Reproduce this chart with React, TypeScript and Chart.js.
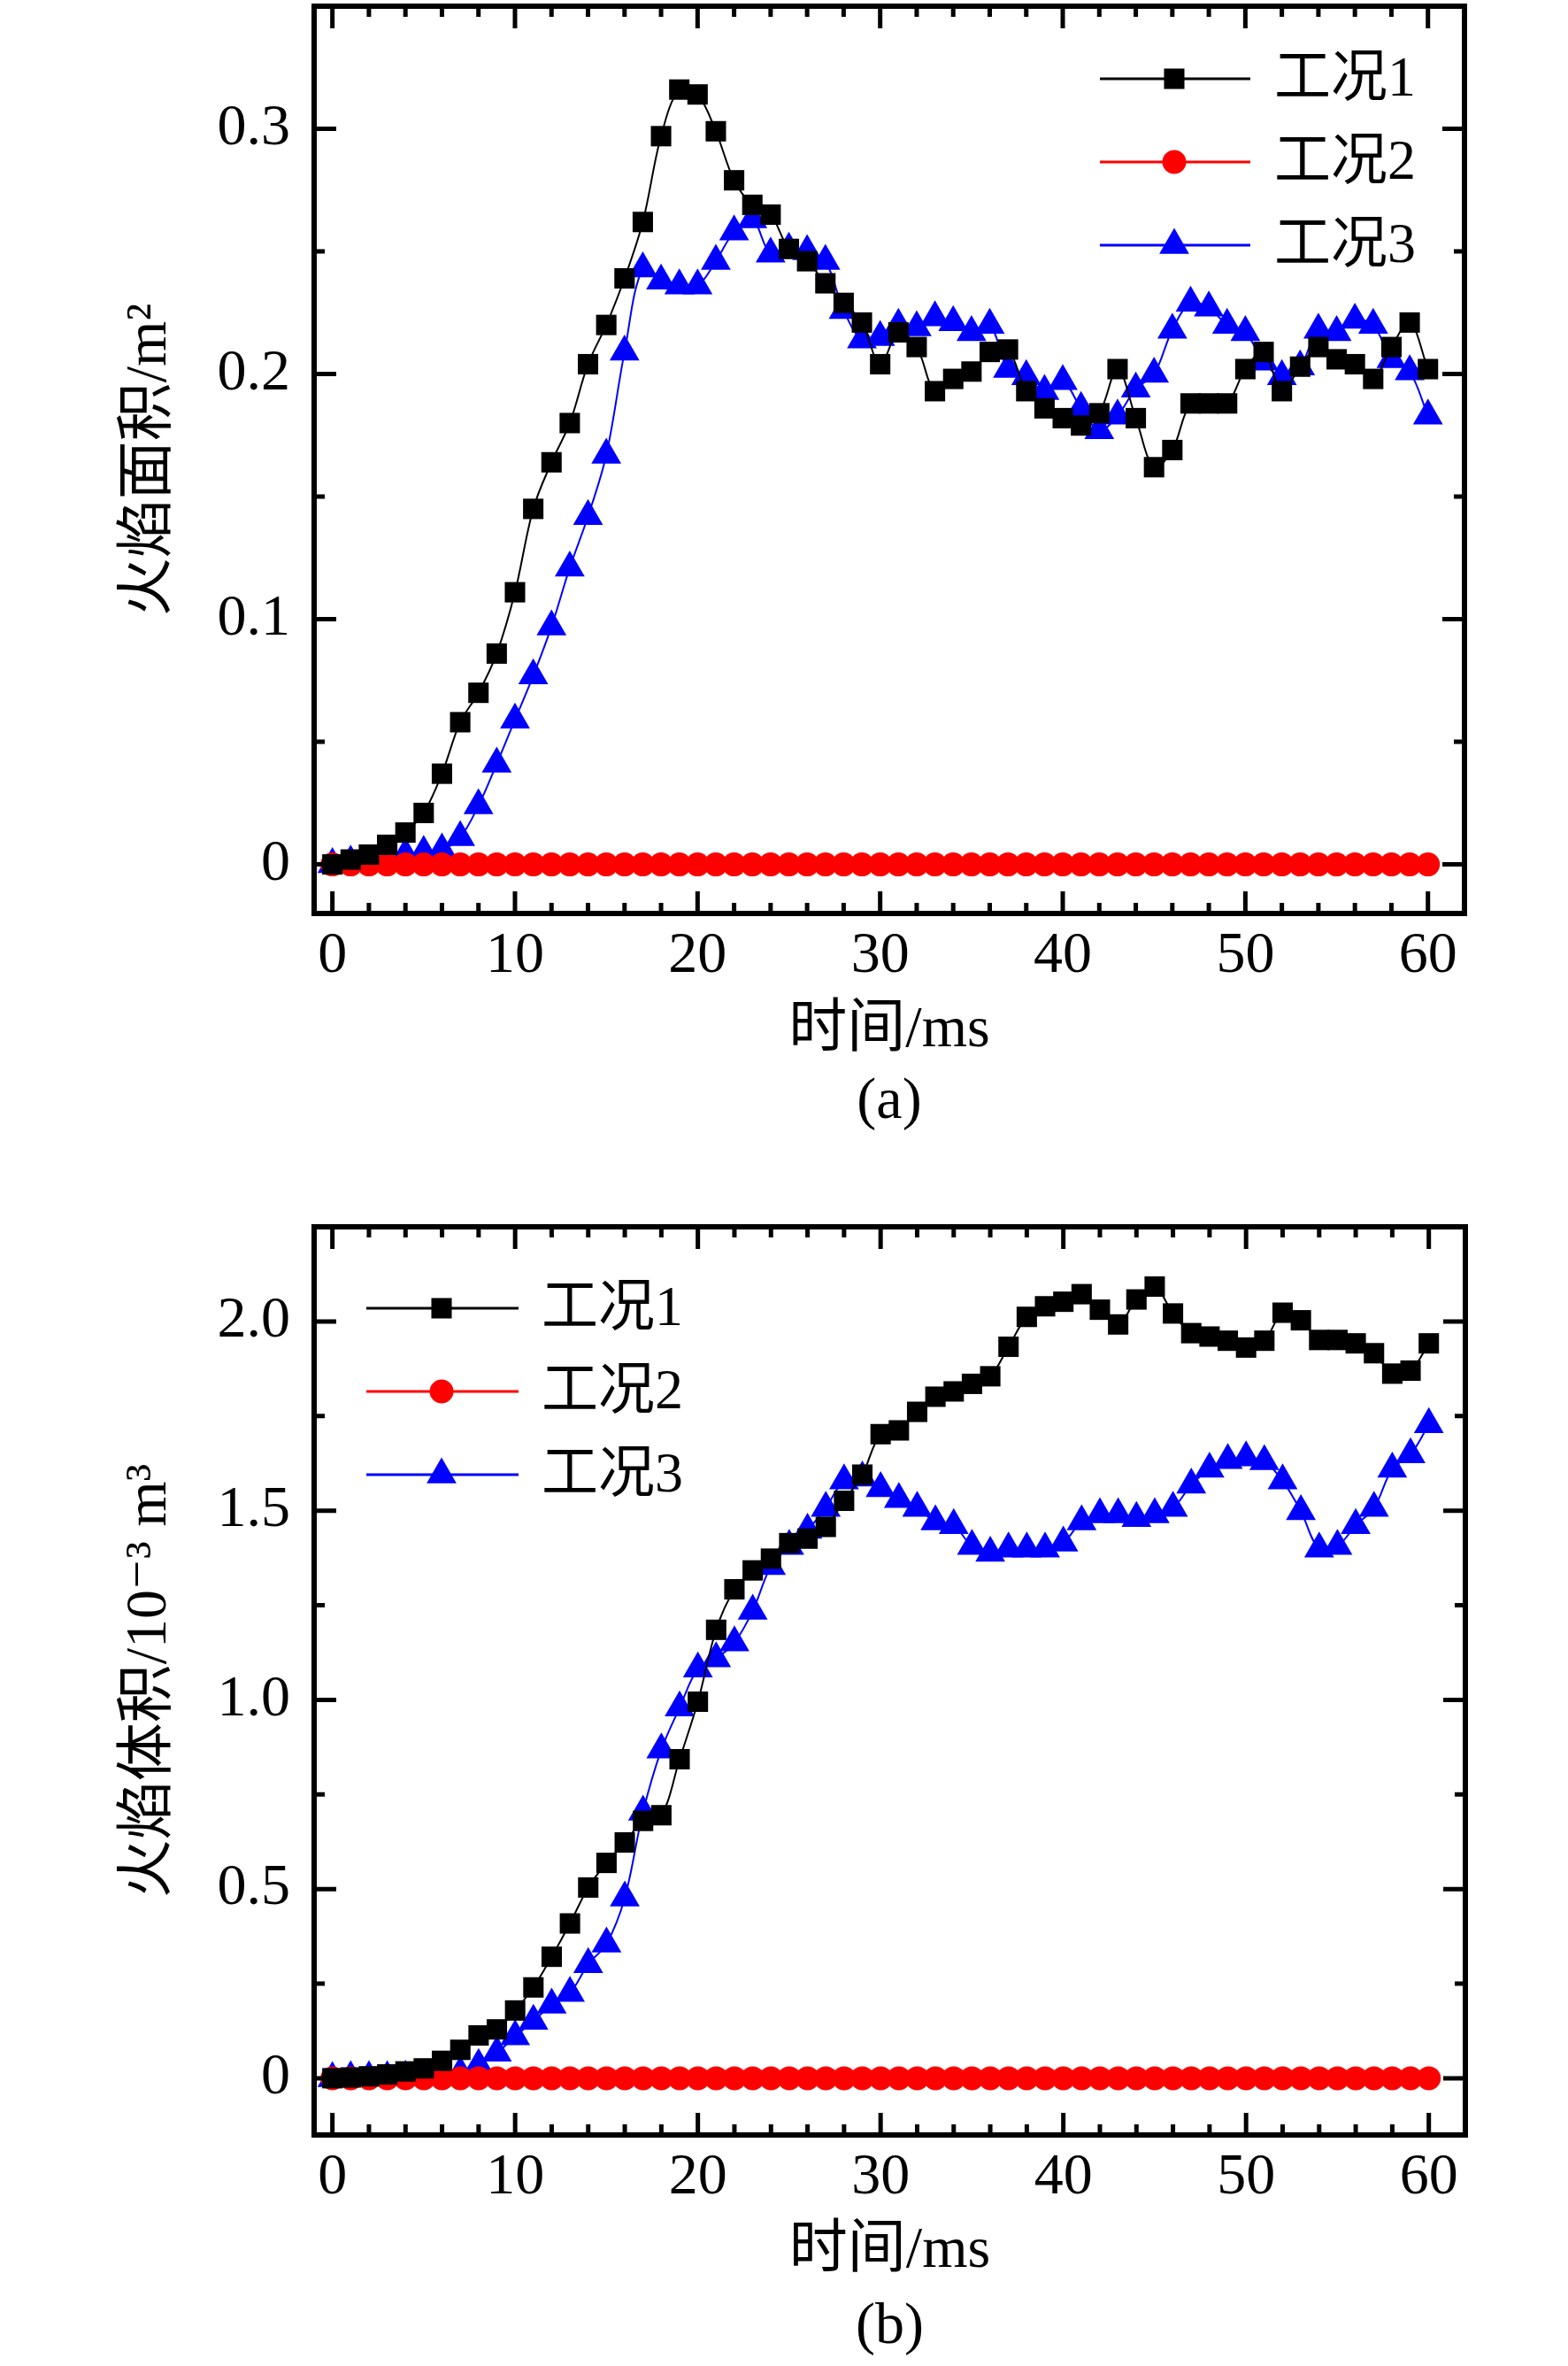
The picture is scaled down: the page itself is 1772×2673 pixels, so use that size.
import { useEffect, useRef } from 'react'
import { Chart, registerables } from 'chart.js'

Chart.register(...registerables)

const FONT = '"Liberation Serif", "DejaVu Serif", "Noto Sans CJK SC", serif'
const PAGE_W = 1772

const TIME = [
  0, 1, 2, 3, 4, 5, 6, 7, 8, 9, 10, 11, 12, 13, 14, 15, 16, 17, 18, 19, 20,
  21, 22, 23, 24, 25, 26, 27, 28, 29, 30, 31, 32, 33, 34, 35, 36, 37, 38, 39, 40,
  41, 42, 43, 44, 45, 46, 47, 48, 49, 50, 51, 52, 53, 54, 55, 56, 57, 58, 59, 60,
]

const SERIES_NAMES = ['工况1', '工况2', '工况3']

// (a) flame area, m²
const AREA_1 = [
  0.000, 0.002, 0.004, 0.008, 0.013, 0.021, 0.037, 0.058, 0.070, 0.086, 0.111,
  0.145, 0.164, 0.180, 0.204, 0.220, 0.239, 0.262, 0.297, 0.316, 0.314,
  0.299, 0.279, 0.269, 0.265, 0.251, 0.246, 0.237, 0.229, 0.221, 0.204,
  0.217, 0.211, 0.193, 0.198, 0.201, 0.209, 0.210, 0.193, 0.186, 0.182,
  0.179, 0.184, 0.202, 0.182, 0.162, 0.169, 0.188, 0.188, 0.188, 0.202,
  0.209, 0.193, 0.203, 0.211, 0.206, 0.204, 0.198, 0.211, 0.221, 0.202,
]
const AREA_2 = [
  0, 0, 0, 0, 0, 0, 0, 0, 0, 0, 0, 0, 0, 0, 0, 0, 0, 0, 0, 0, 0,
  0, 0, 0, 0, 0, 0, 0, 0, 0, 0, 0, 0, 0, 0, 0, 0, 0, 0, 0, 0,
  0, 0, 0, 0, 0, 0, 0, 0, 0, 0, 0, 0, 0, 0, 0, 0, 0, 0, 0, 0,
]
const AREA_3 = [
  0.000, 0.001, 0.001, 0.002, 0.004, 0.005, 0.006, 0.011, 0.024, 0.041, 0.059,
  0.077, 0.097, 0.121, 0.142, 0.167, 0.209, 0.243, 0.238, 0.236, 0.236,
  0.246, 0.258, 0.263, 0.249, 0.251, 0.250, 0.246, 0.226, 0.214, 0.215,
  0.220, 0.219, 0.223, 0.221, 0.217, 0.220, 0.202, 0.199, 0.193, 0.197,
  0.186, 0.177, 0.183, 0.194, 0.200, 0.218, 0.229, 0.227, 0.220, 0.217,
  0.205, 0.199, 0.203, 0.218, 0.217, 0.222, 0.220, 0.206, 0.201, 0.183,
]

// (b) flame volume, 10^-3 m³
const VOLUME_1 = [
  0.000, 0.002, 0.005, 0.010, 0.018, 0.026, 0.046, 0.075, 0.113, 0.129, 0.179,
  0.240, 0.321, 0.409, 0.504, 0.569, 0.623, 0.680, 0.695, 0.843, 0.995,
  1.185, 1.292, 1.342, 1.373, 1.414, 1.426, 1.457, 1.526, 1.595, 1.702,
  1.712, 1.761, 1.801, 1.815, 1.835, 1.855, 1.933, 2.012, 2.040, 2.052,
  2.072, 2.031, 1.992, 2.058, 2.092, 2.021, 1.969, 1.960, 1.949, 1.931,
  1.949, 2.023, 2.003, 1.951, 1.951, 1.942, 1.916, 1.862, 1.870, 1.942,
]
const VOLUME_2 = [
  0, 0, 0, 0, 0, 0, 0, 0, 0, 0, 0, 0, 0, 0, 0, 0, 0, 0, 0, 0, 0,
  0, 0, 0, 0, 0, 0, 0, 0, 0, 0, 0, 0, 0, 0, 0, 0, 0, 0, 0, 0,
  0, 0, 0, 0, 0, 0, 0, 0, 0, 0, 0, 0, 0, 0, 0, 0, 0, 0, 0, 0,
]
const VOLUME_3 = [
  0.000, 0.002, 0.002, 0.002, 0.003, 0.003, 0.004, 0.014, 0.034, 0.067, 0.110,
  0.151, 0.194, 0.225, 0.301, 0.355, 0.477, 0.704, 0.868, 0.979, 1.082,
  1.109, 1.151, 1.235, 1.353, 1.406, 1.449, 1.507, 1.579, 1.587, 1.559,
  1.530, 1.507, 1.471, 1.461, 1.406, 1.388, 1.399, 1.399, 1.399, 1.415,
  1.471, 1.490, 1.490, 1.480, 1.490, 1.507, 1.568, 1.610, 1.633, 1.640,
  1.630, 1.579, 1.498, 1.399, 1.406, 1.461, 1.507, 1.610, 1.648, 1.728,
]

const X_TICKS = [0, 10, 20, 30, 40, 50, 60]
const X_LABELS = ['0', '10', '20', '30', '40', '50', '60']
const AREA_TICKS = [0, 0.1, 0.2, 0.3]
const AREA_LABELS = ['0', '0.1', '0.2', '0.3']
const VOLUME_TICKS = [0, 0.5, 1.0, 1.5, 2.0]
const VOLUME_LABELS = ['0', '0.5', '1.0', '1.5', '2.0']

const COLORS = ['#000000', '#ff0000', '#0000ff']
const SHAPES = ['rect', 'circle', 'triangle'] as const
const RADII = [16.3, 13.5, 19.5]

function drawMarker(ctx: CanvasRenderingContext2D, shape: string, x: number, y: number, r: number) {
  ctx.beginPath()
  if (shape === 'rect') {
    const s = r * Math.SQRT1_2
    ctx.rect(x - s, y - s, 2 * s, 2 * s)
  } else if (shape === 'circle') {
    ctx.arc(x, y, r, 0, Math.PI * 2)
  } else {
    const w = r * Math.sin(Math.PI * 2 / 3)
    ctx.moveTo(x, y - r)
    ctx.lineTo(x + w, y + r / 2)
    ctx.lineTo(x - w, y + r / 2)
    ctx.closePath()
  }
  ctx.fill()
}

// box frame with inward ticks on all four sides
const framePlugin = {
  id: 'frame',
  afterDatasetsDraw(chart: any, _args: any, opts: any) {
    const { ctx, chartArea: a, scales } = chart
    const sx = scales.x
    const sy = scales.y
    ctx.save()
    ctx.strokeStyle = '#000'
    ctx.lineCap = 'butt'
    ctx.lineWidth = 5
    const tickX = (v: number, len: number) => {
      const p = sx.getPixelForValue(v)
      ctx.beginPath()
      ctx.moveTo(p, a.bottom); ctx.lineTo(p, a.bottom - len)
      ctx.moveTo(p, a.top); ctx.lineTo(p, a.top + len)
      ctx.stroke()
    }
    const tickY = (v: number, len: number) => {
      const p = sy.getPixelForValue(v)
      ctx.beginPath()
      ctx.moveTo(a.left, p); ctx.lineTo(a.left + len, p)
      ctx.moveTo(a.right, p); ctx.lineTo(a.right - len, p)
      ctx.stroke()
    }
    const xt: number[] = opts.xTicks
    const yt: number[] = opts.yTicks
    xt.forEach(v => tickX(v, 25))
    for (let i = 0; i < xt.length - 1; i++) {
      for (let k = 1; k < opts.xMinor; k++) tickX(xt[i] + (xt[i + 1] - xt[i]) * k / opts.xMinor, 12)
    }
    yt.forEach(v => tickY(v, 25))
    for (let i = 0; i < yt.length - 1; i++) {
      for (let k = 1; k < opts.yMinor; k++) tickY(yt[i] + (yt[i + 1] - yt[i]) * k / opts.yMinor, 12)
    }
    ctx.lineWidth = 6
    ctx.strokeRect(a.left, a.top, a.right - a.left, a.bottom - a.top)
    ctx.restore()
  },
}

const legendPlugin = {
  id: 'boxLegend',
  afterDraw(chart: any, _args: any, opts: any) {
    const { ctx } = chart
    ctx.save()
    SERIES_NAMES.forEach((name, i) => {
      const y = opts.rows[i]
      ctx.strokeStyle = COLORS[i]
      ctx.fillStyle = COLORS[i]
      ctx.lineWidth = 3
      ctx.beginPath()
      ctx.moveTo(opts.x0, y)
      ctx.lineTo(opts.x1, y)
      ctx.stroke()
      drawMarker(ctx, SHAPES[i], opts.xm, y, RADII[i])
      ctx.fillStyle = '#000'
      ctx.font = `64px ${FONT}`
      ctx.textAlign = 'left'
      ctx.textBaseline = 'middle'
      ctx.fillText(name, opts.xt, y + 2)
    })
    ctx.restore()
  },
}

type PanelProps = {
  top: number
  height: number
  plotTop: number
  plotBottom: number
  plotRight: number
  series: number[][]
  yMin: number
  yMax: number
  yTicks: number[]
  yLabels: string[]
  yTitle: string
  xTitle: string[]
  xTitleLine: number
  xTitlePad: number
  legend: { x0: number; x1: number; xm: number; xt: number; rows: number[] }
}

function Panel(p: PanelProps) {
  const canvasRef = useRef<HTMLCanvasElement>(null)

  useEffect(() => {
    if (!canvasRef.current) return
    const tickFont = { family: FONT, size: 66, lineHeight: 1.2 }
    const chart = new Chart(canvasRef.current, {
      type: 'line',
      data: {
        datasets: p.series.map((vals, i) => ({
          label: SERIES_NAMES[i],
          data: TIME.map((t, j) => ({ x: t, y: vals[j] })),
          borderColor: COLORS[i],
          backgroundColor: COLORS[i],
          pointBackgroundColor: COLORS[i],
          pointBorderColor: COLORS[i],
          pointBorderWidth: 0,
          pointStyle: SHAPES[i],
          pointRadius: RADII[i],
          borderWidth: 2,
          tension: 0.35,
          clip: false,
        })),
      },
      options: {
        animation: false,
        responsive: false,
        devicePixelRatio: 1,
        layout: {
          autoPadding: false,
          padding: { left: 0, right: PAGE_W - p.plotRight, top: p.plotTop, bottom: 0 },
        },
        plugins: {
          legend: { display: false },
          tooltip: { enabled: false },
          frame: { xTicks: X_TICKS, yTicks: p.yTicks, xMinor: 5, yMinor: 2 },
          boxLegend: p.legend,
        } as any,
        scales: {
          x: {
            type: 'linear',
            min: -1,
            max: 62,
            afterBuildTicks: (s: any) => { s.ticks = X_TICKS.map(v => ({ value: v })) },
            afterFit: (s: any) => {
              s.height = p.height - p.plotBottom
              s.paddingLeft = 0; s.paddingRight = 0; s.paddingTop = 0; s.paddingBottom = 0
            },
            ticks: {
              autoSkip: false,
              maxRotation: 0,
              padding: 9,
              color: '#000',
              font: tickFont,
              callback: (_v: any, i: number) => X_LABELS[i],
            },
            grid: { display: false, drawTicks: false },
            border: { display: false },
            title: {
              display: true,
              text: p.xTitle,
              color: '#000',
              font: { family: FONT, size: 66, lineHeight: p.xTitleLine },
              padding: { top: 0, bottom: p.xTitlePad },
            },
          },
          y: {
            type: 'linear',
            min: p.yMin,
            max: p.yMax,
            afterBuildTicks: (s: any) => { s.ticks = p.yTicks.map(v => ({ value: v })) },
            afterFit: (s: any) => {
              s.width = 355
              s.paddingLeft = 0; s.paddingRight = 0; s.paddingTop = 0; s.paddingBottom = 0
            },
            ticks: {
              autoSkip: false,
              padding: 27,
              color: '#000',
              font: tickFont,
              callback: (_v: any, i: number) => p.yLabels[i],
            },
            grid: { display: false, drawTicks: false },
            border: { display: false },
            title: {
              display: true,
              text: p.yTitle,
              color: '#000',
              font: { family: FONT, size: 66, lineHeight: 1.2 },
              padding: { top: 130, bottom: 0 },
            },
          },
        },
      },
      plugins: [framePlugin, legendPlugin],
    })
    return () => { chart.destroy() }
  }, [])

  return (
    <canvas
      ref={canvasRef}
      width={PAGE_W}
      height={p.height}
      style={{ position: 'absolute', left: 0, top: p.top, width: PAGE_W, height: p.height, display: 'block' }}
    />
  )
}

export default function App() {
  return (
    <div style={{ position: 'absolute', left: 0, top: 0, width: PAGE_W, height: 2673, background: '#fff', overflow: 'hidden' }}>
      <Panel
        top={0}
        height={1300}
        plotTop={7}
        plotBottom={1032}
        plotRight={1655}
        series={[AREA_1, AREA_2, AREA_3]}
        yMin={-0.02}
        yMax={0.35}
        yTicks={AREA_TICKS}
        yLabels={AREA_LABELS}
        yTitle="火焰面积/m²"
        xTitle={['时间/ms', '(a)']}
        xTitleLine={1.227}
        xTitlePad={14}
        legend={{ x0: 1243, x1: 1413, xm: 1327, xt: 1440, rows: [89, 183, 277] }}
      />
      <Panel
        top={1300}
        height={1373}
        plotTop={86}
        plotBottom={1112}
        plotRight={1656}
        series={[VOLUME_1, VOLUME_2, VOLUME_3]}
        yMin={-0.15}
        yMax={2.25}
        yTicks={VOLUME_TICKS}
        yLabels={VOLUME_LABELS}
        yTitle="火焰体积/10⁻³ m³"
        xTitle={['时间/ms', '(b)']}
        xTitleLine={1.303}
        xTitlePad={0}
        legend={{ x0: 414, x1: 586, xm: 499, xt: 612, rows: [178, 272, 366] }}
      />
    </div>
  )
}
